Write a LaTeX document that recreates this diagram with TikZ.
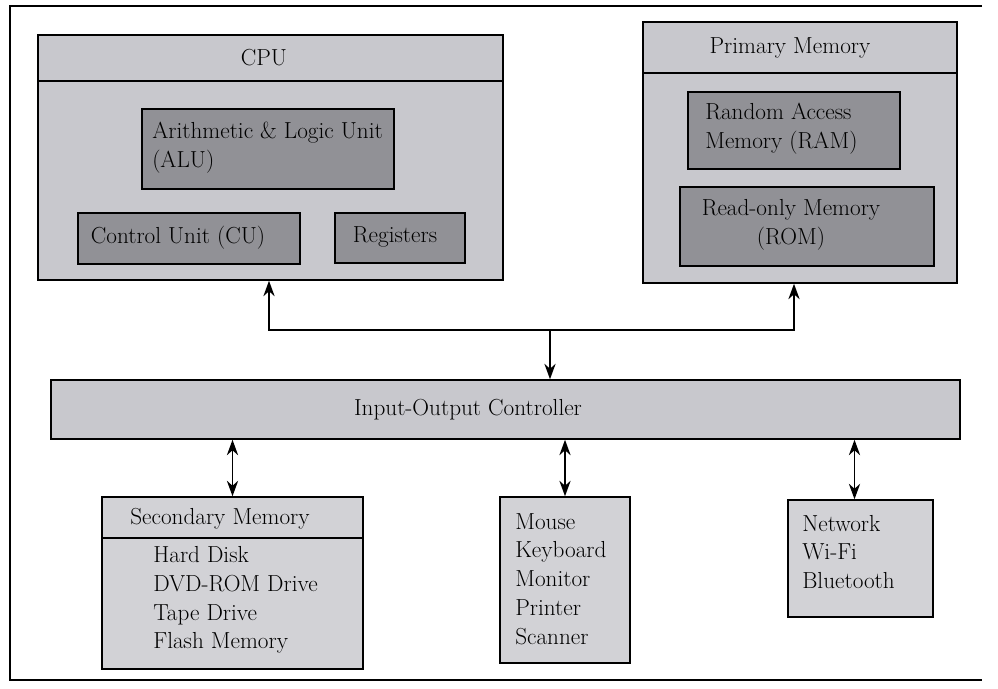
\documentclass[tikz,border=0pt]{standalone}
\usetikzlibrary{fit,arrows.meta}

\definecolor{boxgray}{RGB}{200,200,205}
\definecolor{innergray}{RGB}{145,145,150}
\definecolor{devgray}{RGB}{210,210,214}

\tikzset{
  outerbox/.style={draw, line width=1.1pt, fill=boxgray, inner sep=0pt},
  innerbox/.style={draw, line width=1.1pt, fill=innergray, inner sep=0pt},
  devbox/.style={draw, line width=1.1pt, fill=devgray, inner sep=0pt},
  txt/.style={font=\fontsize{16.5}{20.5}\selectfont, inner sep=0pt},
  listtxt/.style={txt, align=left, anchor=west},
  link/.style={line width=1.2pt},
}

\begin{document}
\begin{tikzpicture}[x=0.025cm,y=-0.025cm,>={Stealth[length=11pt,width=8pt]}]
    \useasboundingbox (0,0) rectangle (998,689);
    % page frame
    \draw[line width=0.9pt] (982,6) -- (10,6) -- (10,680) -- (982,680);

    % CPU
    \node[outerbox, fit={(38,35) (503,280)}] (cpu) {};
    \node[outerbox, fit={(38,35) (503,81)}] (cputop) {};
    \node[txt] (cputxt) at (264,58) {CPU};
    \node[innerbox, fit={(142,109) (394,189)}] (alu) {};
    \node[listtxt] (alutxt) at (152,148) {Arithmetic \& Logic Unit\\(ALU)};
    \node[innerbox, fit={(78,213) (300,264)}] (cu) {};
    \node[txt] (cutxt) at (178,238) {Control Unit (CU)};
    \node[innerbox, fit={(335,213) (465,263)}] (reg) {};
    \node[txt] (regtxt) at (395,237) {Registers};

    % primary memory
    \node[outerbox, fit={(643,22) (957,283)}] (pm) {};
    \node[outerbox, fit={(643,22) (957,73)}] (pmtop) {};
    \node[txt] (pmtxt) at (790,48) {Primary Memory};
    \node[innerbox, fit={(688,92) (900,169)}] (ram) {};
    \node[listtxt] (ramtxt) at (705,129) {Random Access\\Memory (RAM)};
    \node[innerbox, fit={(680,187) (934,266)}] (rom) {};
    \node[txt, align=center] (romtxt) at (791,225) {Read-only Memory\\(ROM)};

    % input-output controller
    \node[outerbox, fit={(51,380) (960,439)}] (io) {};
    \node[txt] (iotxt) at (468,410) {Input-Output Controller};

    % devices
    \node[devbox, fit={(102,497) (363,669)}] (sec) {};
    \node[devbox, fit={(102,497) (363,538)}] (sectop) {};
    \node[txt] (sectxt) at (220,519) {Secondary Memory};
    \node[listtxt] (seclist) at (153,600)
        {Hard Disk\\DVD-ROM Drive\\Tape Drive\\Flash Memory};
    \node[devbox, fit={(500,497) (630,663)}] (dev) {};
    \node[listtxt] (devlist) at (515,579)
        {Mouse\\Keyboard\\Monitor\\Printer\\Scanner};
    \node[devbox, fit={(788,500) (933,617)}] (net) {};
    \node[listtxt] (netlist) at (802,552) {Network\\Wi-Fi\\Bluetooth};

    % bus
    \coordinate (busL) at (269,330);
    \coordinate (busM) at (550,330);
    \coordinate (busR) at (794,330);
    \draw[<->, link] (busL |- cpu.south) -- (busL) -- (busR) -- (busR |- pm.south);
    \draw[->, link] (busM) -- (busM |- io.north);

    \draw[<->, link] (sec.north |- io.south) -- (sec.north);
    \draw[<->, link] (dev.north |- io.south) -- (dev.north);
    \draw[<->, link] ([xshift=-0.15cm]net.north |- io.south) -- ([xshift=-0.15cm]net.north);
\end{tikzpicture}
\end{document}
